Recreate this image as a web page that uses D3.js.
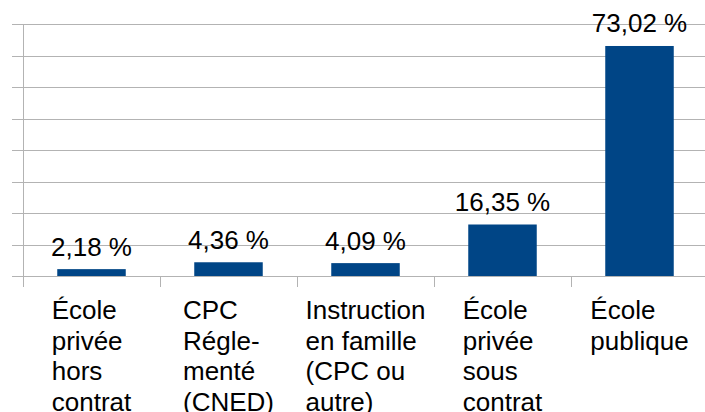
<!DOCTYPE html>
<html>
<head>
<meta charset="utf-8">
<script src="https://cdn.jsdelivr.net/npm/d3@7"></script>
<style>
  body { margin: 0; background: #fff; }
  svg { display: block; font-family: "Liberation Sans", Arial, sans-serif; }
</style>
</head>
<body>
<svg width="705" height="412"></svg>
<script>
// Data used to build chart
const categories = ['École privée hors contrat', 'CPC Réglementé (CNED)', 'Instruction en famille (CPC ou autre)', 'École privée sous contrat', 'École publique']
const labelLines = [
  ['École', 'privée', 'hors', 'contrat'],
  ['CPC', 'Régle-', 'menté', '(CNED)'],
  ['Instruction', 'en famille', '(CPC ou', 'autre)'],
  ['École', 'privée', 'sous', 'contrat'],
  ['École', 'publique']
]
const values = [2.18, 4.36, 4.09, 16.35, 73.02]
const yTicks = [0, 10, 20, 30, 40, 50, 60, 70, 80]

const svg = d3.select('svg')
const plotLeft = 23
const plotRight = 708
const plotTop = 24
const plotBottom = 276

const x = d3.scaleBand().domain(categories).range([plotLeft, plotRight]).paddingInner(0.5).paddingOuter(0.25)
const y = d3.scaleLinear().domain([0, 80]).range([plotBottom, plotTop])

// Gridlines
svg.append('g')
  .selectAll('line')
  .data(yTicks)
  .join('line')
  .attr('x1', 12)
  .attr('x2', 705)
  .attr('y1', d => Math.round(y(d)) + 0.5)
  .attr('y2', d => Math.round(y(d)) + 0.5)
  .attr('stroke', '#b3b3b3')
  .attr('stroke-width', 1)

// Y axis line
svg.append('line')
  .attr('x1', plotLeft + 0.5).attr('x2', plotLeft + 0.5)
  .attr('y1', plotTop).attr('y2', plotBottom + 11)
  .attr('stroke', '#b3b3b3')

// Category tick marks
const bandW = (plotRight - plotLeft) / categories.length
svg.append('g')
  .selectAll('line')
  .data(d3.range(1, categories.length + 1))
  .join('line')
  .attr('x1', i => Math.round(plotLeft + i * bandW) + 0.5)
  .attr('x2', i => Math.round(plotLeft + i * bandW) + 0.5)
  .attr('y1', plotBottom)
  .attr('y2', plotBottom + 11)
  .attr('stroke', '#b3b3b3')

// Bars
svg.append('g')
  .selectAll('rect')
  .data(values)
  .join('rect')
  .attr('x', (d, i) => x(categories[i]))
  .attr('width', x.bandwidth())
  .attr('y', d => y(d))
  .attr('height', d => plotBottom - y(d))
  .attr('fill', '#004586')

// Value labels
svg.append('g')
  .selectAll('text')
  .data(values)
  .join('text')
  .attr('x', (d, i) => x(categories[i]) + x.bandwidth() / 2)
  .attr('y', d => y(d) - 13.5)
  .attr('text-anchor', 'middle')
  .attr('font-size', 26)
  .attr('fill', '#000')
  .text(d => d.toFixed(2).replace('.', ',') + ' %')

// Category labels: block centred, lines left-aligned
const labels = svg.append('g')
labelLines.forEach((lines, i) => {
  const t = labels.append('text')
    .attr('font-size', 26)
    .attr('fill', '#000')
  lines.forEach((line, j) => {
    t.append('tspan').attr('y', 319 + j * 30.5).text(line)
  })
  let w = 0
  t.selectAll('tspan').each(function () { w = Math.max(w, this.getComputedTextLength()) })
  const cx = x(categories[i]) + x.bandwidth() / 2
  t.selectAll('tspan').attr('x', cx - w / 2)
})
</script>
</body>
</html>
